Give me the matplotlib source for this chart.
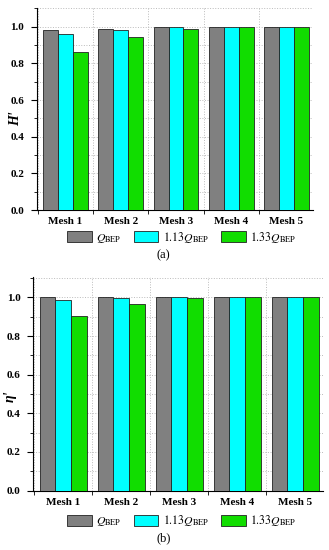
import matplotlib
matplotlib.use("Agg")
import matplotlib.pyplot as plt
from matplotlib.patches import Patch
from matplotlib.ticker import MultipleLocator, FixedLocator
import numpy as np

plt.rcParams['font.family'] = ['Liberation Serif', 'DejaVu Serif']
plt.rcParams['mathtext.fontset'] = 'stix'

categories = ["Mesh 1", "Mesh 2", "Mesh 3", "Mesh 4", "Mesh 5"]
series_names = [r"$Q_{\mathrm{BEP}}$", r"$1.13Q_{\mathrm{BEP}}$", r"$1.33Q_{\mathrm{BEP}}$"]
H_qbep = [0.982, 0.987, 1.000, 1.000, 1.000]
H_113 = [0.960, 0.980, 0.998, 0.999, 1.000]
H_133 = [0.862, 0.944, 0.989, 1.000, 1.000]
eta_qbep = [1.000, 1.000, 1.000, 1.000, 1.000]
eta_113 = [0.986, 0.997, 1.000, 1.000, 1.000]
eta_133 = [0.905, 0.965, 0.995, 1.000, 1.002]
colors = ["#808080", "#00FFFF", "#11DD00"]

fig = plt.figure(figsize=(3.29, 5.5), dpi=100)
ax_a = fig.add_axes([0.112, 0.618, 0.839, 0.367])
ax_b = fig.add_axes([0.100, 0.108, 0.882, 0.388])

def draw(ax, data, ylabel, ytop, lx, ly):
    x = np.arange(len(categories))
    w = 0.27
    for i, (vals, c) in enumerate(zip(data, colors)):
        ax.bar(x + (i - 1) * w, vals, width=w, color=c, edgecolor="#222222", linewidth=0.6, zorder=3)
    ax.set_xlim(-0.52, 4.48)
    ax.set_ylim(0, ytop)
    ax.set_xticks(x)
    ax.set_xticklabels(categories, fontweight='bold', fontsize=8)
    ax.tick_params(axis='x', which='major', length=0, pad=5)
    ax.xaxis.set_minor_locator(FixedLocator(np.arange(-0.5, 4.6, 1.0)))
    ax.tick_params(axis='x', which='minor', length=3, direction='out')
    ax.yaxis.set_minor_locator(MultipleLocator(0.1))
    ticks = np.arange(0, 1.01, 0.2)
    ax.set_yticks(ticks)
    ax.set_yticklabels([f"{v:.1f}" for v in ticks], fontweight='bold', fontsize=8)
    ax.tick_params(axis='y', which='major', length=4, direction='out', pad=5)
    ax.tick_params(axis='y', which='minor', length=2, direction='out')
    ax.grid(True, which='minor', axis='both', linestyle=':', color='#bbbbbb', linewidth=0.7, zorder=0)
    ax.grid(True, which='major', axis='y', linestyle=':', color='#bbbbbb', linewidth=0.7, zorder=0)
    ax.spines['top'].set_visible(False)
    ax.spines['right'].set_visible(False)
    ax.set_ylabel(ylabel, fontsize=10, fontweight='bold', fontstyle='italic')
    ax.yaxis.set_label_coords(lx, ly)

draw(ax_a, [H_qbep, H_113, H_133], "H'", 1.1, -0.054, 0.455)
draw(ax_b, [eta_qbep, eta_113, eta_133], "η'", 1.105, -0.055, 0.44)

handles = [Patch(facecolor=c, edgecolor="#222222", linewidth=0.6) for c in colors]
for y in (0.569, 0.053):
    fig.legend(handles, series_names, loc='center', bbox_to_anchor=(0.552, y), ncol=3,
               frameon=False, fontsize=8.5, handlelength=2.1, handleheight=1.1,
               columnspacing=1.0, handletextpad=0.4, borderpad=0, borderaxespad=0)
fig.text(0.496, 0.536, "(a)", ha='center', va='center', fontsize=9)
fig.text(0.498, 0.022, "(b)", ha='center', va='center', fontsize=9)

fig.savefig("out.png", dpi=100)
